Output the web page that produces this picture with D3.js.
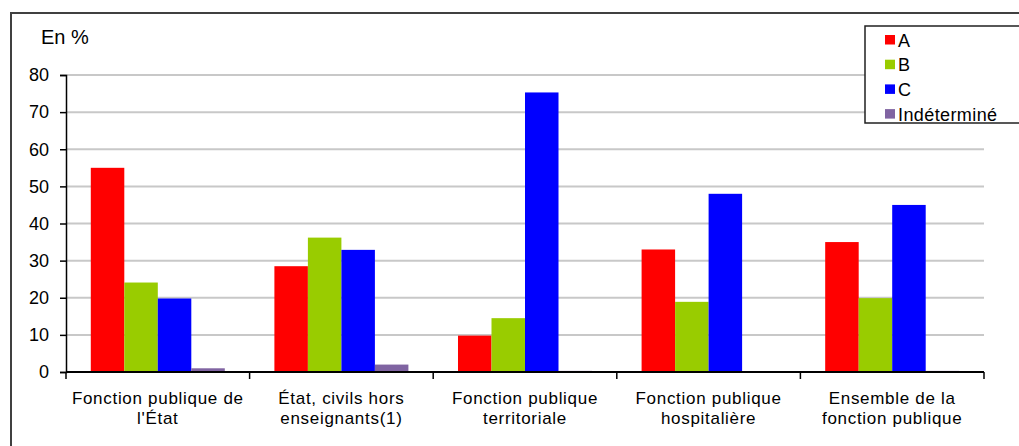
<!DOCTYPE html>
<html>
<head>
<meta charset="utf-8">
<script src="https://cdn.jsdelivr.net/npm/d3@7"></script>
<style>
  body { margin: 0; background: #fff; }
  svg { font-family: "Liberation Sans", Arial, sans-serif; }
</style>
</head>
<body>
<div id="chart"></div>
<script>
const categories = [
    ["Fonction publique de", "l'État"],
    ["État, civils hors", "enseignants(1)"],
    ["Fonction publique", "territoriale"],
    ["Fonction publique", "hospitalière"],
    ["Ensemble de la", "fonction publique"]
];
const seriesNames = ["A", "B", "C", "Indéterminé"];
const seriesColors = ["#ff0000", "#99cc00", "#0000ff", "#8064a2"];
const valuesA = [55, 28.5, 9.8, 33, 35];
const valuesB = [24.1, 36.2, 14.5, 18.9, 19.9];
const valuesC = [19.8, 32.9, 75.3, 48, 45];
const valuesInd = [1.0, 2.0, 0.3, 0, 0.3];
const yTicks = [0, 10, 20, 30, 40, 50, 60, 70, 80];

const width = 1019, height = 446;
const margin = {left: 66, right: 35, top: 75, bottom: 74};

const svg = d3.select("#chart").append("svg")
    .attr("width", width)
    .attr("height", height);

// outer frame
svg.append("rect")
    .attr("x", 11).attr("y", 13)
    .attr("width", 1020).attr("height", 450)
    .attr("fill", "none")
    .attr("stroke", "#404040")
    .attr("stroke-width", 2);

const x0 = d3.scaleBand()
    .domain(d3.range(categories.length))
    .range([margin.left, width - margin.right])
    .paddingInner(0)
    .paddingOuter(0);

const x1 = d3.scaleBand()
    .domain(d3.range(seriesNames.length))
    .range([0, x0.bandwidth()])
    .paddingOuter(0.74);

const y = d3.scaleLinear()
    .domain([0, 80])
    .range([height - margin.bottom, margin.top]);

// gridlines
svg.append("g")
    .selectAll("line")
    .data(yTicks.slice(1))
    .enter()
    .append("line")
    .attr("x1", margin.left)
    .attr("x2", width - margin.right)
    .attr("y1", d => y(d))
    .attr("y2", d => y(d))
    .attr("stroke", "#c8c8c8")
    .attr("stroke-width", 2);

// bars
const allValues = [valuesA, valuesB, valuesC, valuesInd];
const groups = svg.append("g")
    .selectAll("g")
    .data(categories)
    .enter()
    .append("g")
    .attr("transform", (d, i) => `translate(${x0(i)},0)`);

groups.selectAll("rect")
    .data((d, i) => allValues.map((vals, s) => ({s: s, v: vals[i]})))
    .enter()
    .append("rect")
    .attr("x", d => x1(d.s))
    .attr("width", x1.bandwidth())
    .attr("y", d => y(d.v))
    .attr("height", d => y(0) - y(d.v))
    .attr("fill", d => seriesColors[d.s]);

// y axis
const yAxis = svg.append("g")
    .attr("transform", `translate(${margin.left},0)`)
    .call(d3.axisLeft(y).tickValues(yTicks).tickSize(6).tickPadding(11));
yAxis.select(".domain").attr("stroke", "#000").attr("stroke-width", 1.5);
yAxis.selectAll(".tick line").attr("stroke", "#000").attr("stroke-width", 1.5);
yAxis.selectAll("text")
    .attr("font-size", "18px")
    .attr("font-family", "Liberation Sans, Arial, sans-serif")
    .attr("fill", "#000");

// x axis
const xAxis = svg.append("g")
    .attr("transform", `translate(0,${y(0)})`);
xAxis.append("line")
    .attr("x1", margin.left)
    .attr("x2", width - margin.right)
    .attr("stroke", "#000")
    .attr("stroke-width", 2);
xAxis.selectAll(".sep")
    .data(d3.range(categories.length + 1))
    .enter()
    .append("line")
    .attr("x1", i => i < categories.length ? x0(i) : x0(i - 1) + x0.bandwidth())
    .attr("x2", i => i < categories.length ? x0(i) : x0(i - 1) + x0.bandwidth())
    .attr("y1", 0)
    .attr("y2", 7)
    .attr("stroke", "#000")
    .attr("stroke-width", 1.5);

const labels = svg.append("g")
    .selectAll("text")
    .data(categories)
    .enter()
    .append("text")
    .attr("text-anchor", "middle")
    .attr("font-size", "17px")
    .attr("letter-spacing", "0.7px")
    .attr("fill", "#000");
labels.each(function(d, i) {
    d3.select(this).selectAll("tspan")
        .data(d)
        .enter()
        .append("tspan")
        .attr("x", x0(i) + x0.bandwidth() / 2)
        .attr("y", (t, j) => y(0) + 32 + j * 19.5)
        .text(t => t);
});

// unit label
svg.append("text")
    .attr("x", 41)
    .attr("y", 44)
    .attr("font-size", "20px")
    .text("En %");

// legend
const legend = svg.append("g")
    .attr("transform", "translate(865,26)");
legend.append("rect")
    .attr("width", 160)
    .attr("height", 97)
    .attr("fill", "#fff")
    .attr("stroke", "#202020")
    .attr("stroke-width", 1.5);
const items = legend.selectAll(".item")
    .data(seriesNames)
    .enter()
    .append("g")
    .attr("transform", (d, i) => `translate(20,${14 + i * 24.7})`);
items.append("rect")
    .attr("x", 0)
    .attr("y", -5)
    .attr("width", 10)
    .attr("height", 9.5)
    .attr("fill", (d, i) => seriesColors[i]);
items.append("text")
    .attr("x", 13)
    .attr("y", 6.5)
    .attr("font-size", "18px")
    .attr("letter-spacing", "0.4px")
    .text(d => d);
</script>
</body>
</html>
